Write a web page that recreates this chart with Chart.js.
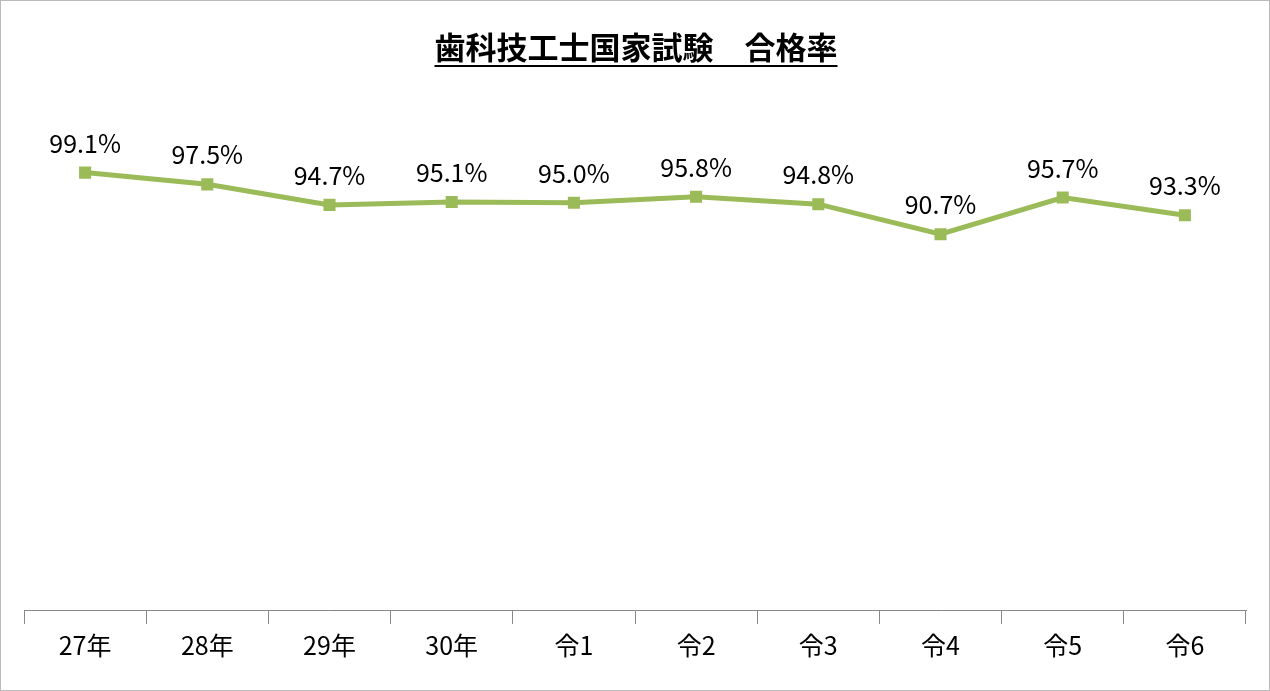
<!DOCTYPE html>
<html><head><meta charset="utf-8">
<script src="https://cdn.jsdelivr.net/npm/chart.js@4"></script>
<style>html,body{margin:0;padding:0;background:#fff}#w{position:absolute;left:0;top:0;width:1268px;height:689px;border:1px solid #bbb}</style>
</head><body><div id="w"><canvas id="c"></canvas></div>
<script>
const categories=["27年","28年","29年","30年","令1","令2","令3","令4","令5","令6"];
const passRate=[99.1,97.5,94.7,95.1,95.0,95.8,94.8,90.7,95.7,93.3];
const titleText="歯科技工士国家試験　合格率";
const labelPlugin={id:'lbl',afterDatasetsDraw(ch){const ctx=ch.ctx;const m=ch.getDatasetMeta(0);ctx.save();ctx.font='25px "Noto Sans CJK JP"';ctx.fillStyle='#000';ctx.textAlign='center';ctx.textBaseline='bottom';m.data.forEach((p,i)=>{ctx.fillText(passRate[i].toFixed(1)+'%',p.x,p.y-17);});ctx.restore();}};
const titlePlugin={id:'ttl',afterDraw(ch){const ctx=ch.ctx;ctx.save();ctx.font='bold 31px "Noto Sans CJK JP"';ctx.textAlign='center';ctx.textBaseline='alphabetic';const x=635,y=58;ctx.fillText(titleText,x,y);const w=ctx.measureText(titleText).width;ctx.fillRect(x-w/2,y+6,w,2);ctx.restore();}};
new Chart(document.getElementById('c'),{type:'line',
data:{labels:categories,datasets:[{data:passRate,borderColor:'#9bbb59',backgroundColor:'#9bbb59',borderWidth:5,pointStyle:'rect',pointRadius:5,tension:0}]},
options:{responsive:true,maintainAspectRatio:false,animation:false,
layout:{padding:{left:23,right:23,top:165,bottom:24}},
plugins:{legend:{display:false},tooltip:{enabled:false}},
scales:{y:{display:false,min:39.5,max:100},
x:{offset:true,grid:{display:true,drawOnChartArea:false,tickLength:14,color:'#888',offset:true},border:{color:'#888'},ticks:{color:'#000',font:{size:25,family:'"Noto Sans CJK JP"'},padding:6}}}},
plugins:[labelPlugin,titlePlugin]});
</script></body></html>
